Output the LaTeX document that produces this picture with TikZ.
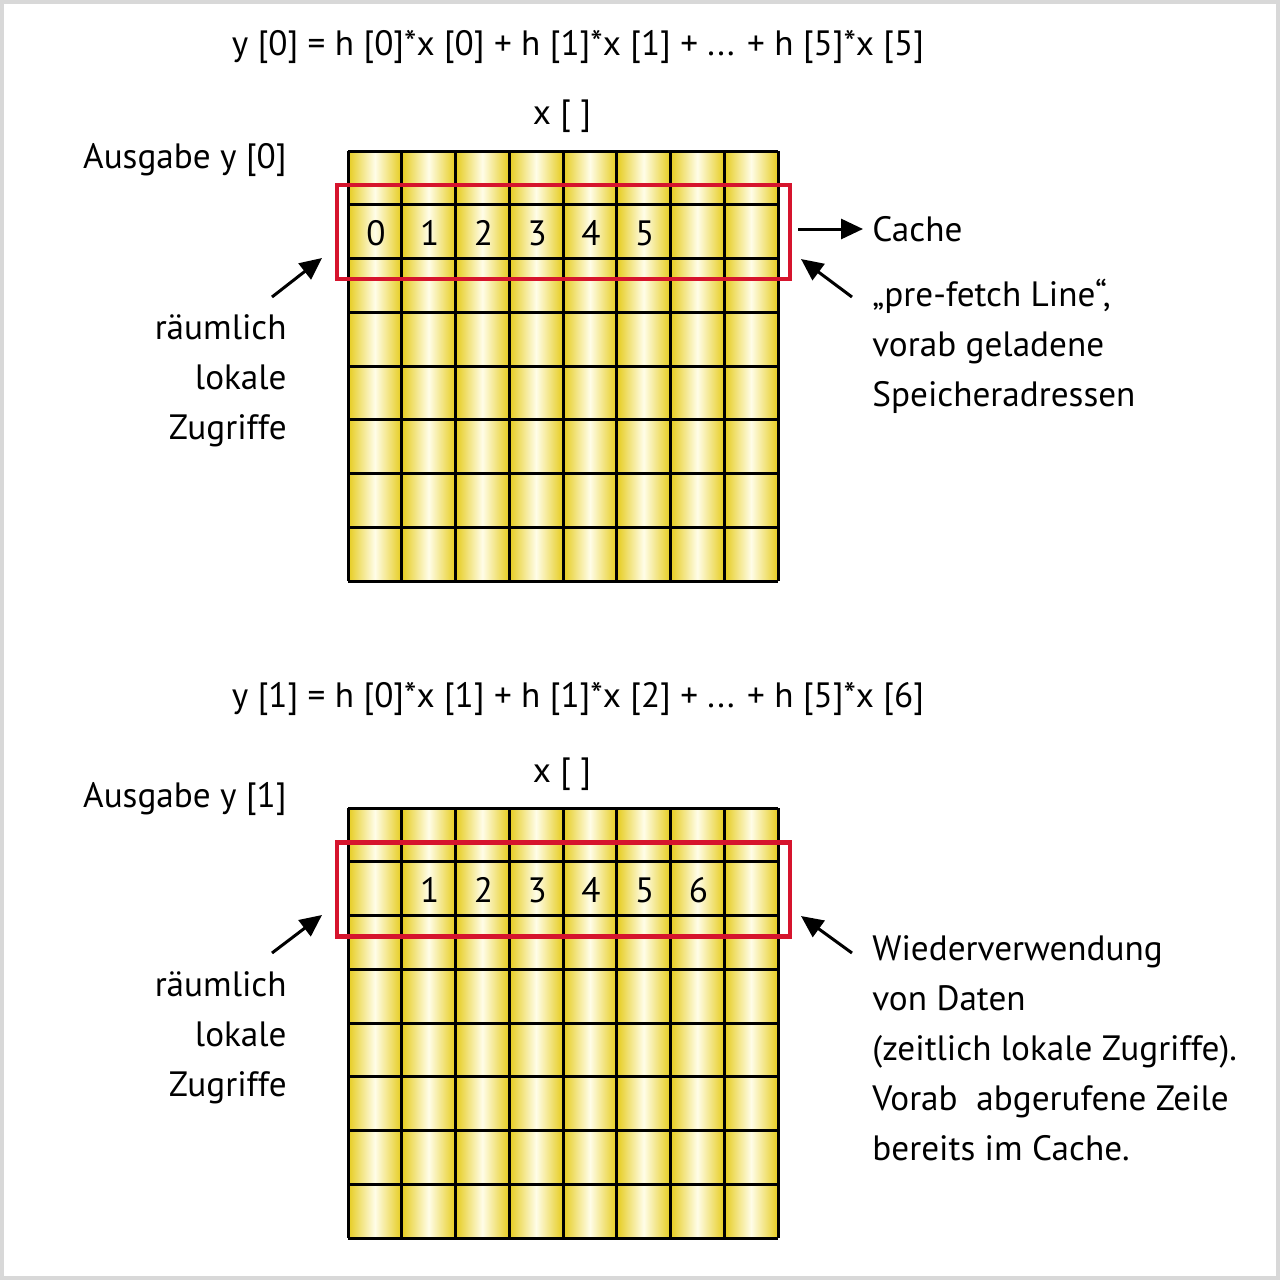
\documentclass[tikz,border=0pt]{standalone}
\usepackage{fontspec}
\setmainfont{PT Sans}
\usetikzlibrary{arrows.meta}
\definecolor{gold}{RGB}{230,204,30}
\definecolor{pale}{RGB}{255,253,232}
\definecolor{cachered}{RGB}{214,20,45}
\definecolor{framegray}{RGB}{216,216,216}
\begin{document}
\begin{tikzpicture}[x=0.5pt,y=-0.5pt,
  lbl/.style={font=\fontsize{17.6}{25}\selectfont, inner sep=0pt},
  num/.style={font=\fontsize{17.6}{20}\selectfont, inner sep=0pt},
  gridline/.style={line width=1.5pt, black},
  cachebox/.style={draw=cachered, line width=2.2pt},
  arr/.style={line width=1.5pt, -{Triangle[length=11pt,width=10pt]}},
  colshade/.style={left color=gold, right color=gold, middle color=pale}]
\useasboundingbox (0,0) rectangle (1280,1280);
\draw[framegray, line width=2pt] (2,2) rectangle (1278,1278);

% ---------- grids ----------
\foreach \top in {151,808}{
  \foreach \i in {0,...,7}
    \shade[colshade] ({348+\i*53.75},\top) rectangle ++(53.75,430);
  \foreach \i in {0,...,8}
    \draw[gridline] ({348+\i*53.75},\top) -- ++(0,430);
  \foreach \j in {0,...,8}
    \draw[gridline] (348,{\top+\j*53.75}) -- ++(430,0);
}

% numbers top
\foreach \n in {0,...,5}
  \node[num] (t\n) at ({349+(\n+0.5)*53.75},233) {\n};
% numbers bottom
\foreach \n in {1,...,6}
  \node[num] (b\n) at ({349+(\n+0.5)*53.75},890) {\n};

% cache boxes
\node[cachebox, minimum width=226.5pt, minimum height=47pt, inner sep=0pt] (box1) at (563.5,232) {};
\node[cachebox, minimum width=226.5pt, minimum height=47pt, inner sep=0pt] (box2) at (563.5,889.5) {};

% ---------- top texts ----------
\node[lbl, anchor=base] (eq1) at (578,55) {y [0] = h [0]*x [0] + h [1]*x [1] + ... + h [5]*x [5]};
\node[lbl, anchor=base] (x1) at (562,124) {x [ ]};
\node[lbl, anchor=base east] (aus1) at (287,168) {Ausgabe y [0]};
\node[lbl, anchor=base west] (cache) at (872,241) {Cache};
\node[lbl, anchor=north west, align=left] (pf) at (872,279) {„pre-fetch Line“,\\vorab geladene\\Speicheradressen};
\node[lbl, anchor=north east, align=right] (rl1) at (287,314) {räumlich\\lokale\\Zugriffe};

\coordinate (ca0) at (798,229);
\coordinate (ca1) at (863,229);
\coordinate (la0) at (272,297);
\coordinate (ra0) at (852,297);
\draw[arr] (ca0) -- (ca1);
\draw[arr] (la0) -- (322,258);
\draw[arr] (ra0) -- (801,259);

% ---------- bottom texts ----------
\node[lbl, anchor=base] (eq2) at (578,707) {y [1] = h [0]*x [1] + h [1]*x [2] + ... + h [5]*x [6]};
\node[lbl, anchor=base] (x2) at (562,782) {x [ ]};
\node[lbl, anchor=base east] (aus2) at (287,807) {Ausgabe y [1]};
\node[lbl, anchor=north east, align=right] (rl2) at (287,971) {räumlich\\lokale\\Zugriffe};
\node[lbl, anchor=north west, align=left] (wv) at (872,935) {Wiederverwendung\\von Daten\\(zeitlich lokale Zugriffe).\\Vorab\ \ abgerufene Zeile\\bereits im Cache.};

\coordinate (lb0) at (272,953);
\coordinate (rb0) at (852,953);
\draw[arr] (lb0) -- (322,915);
\draw[arr] (rb0) -- (801,916);
\end{tikzpicture}
\end{document}
